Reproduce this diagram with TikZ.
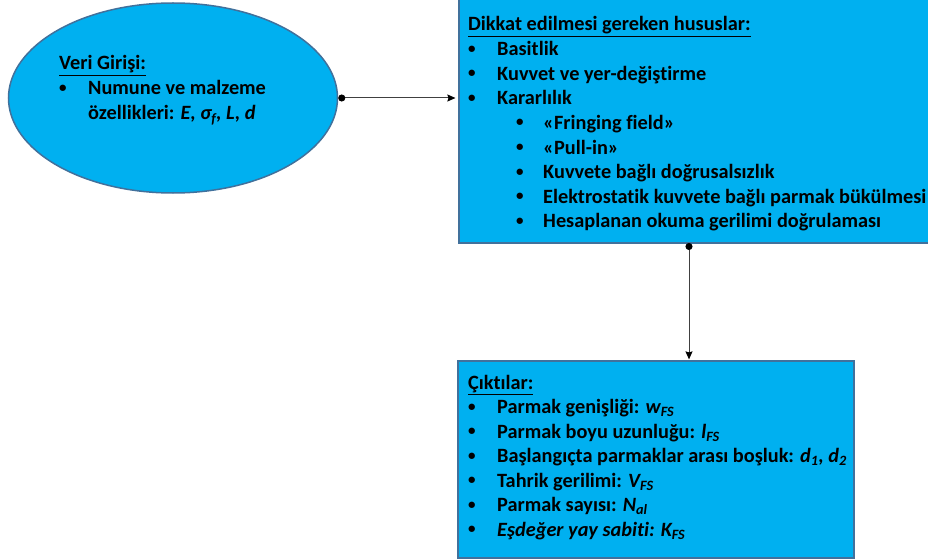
\documentclass[tikz,border=0pt]{standalone}
\usepackage{fontspec}
\setmainfont{Carlito}[Ligatures={NoCommon}]
\usetikzlibrary{shapes.geometric,arrows.meta}
\definecolor{fillblue}{HTML}{00B0F0}
\definecolor{edgeblue}{HTML}{41719C}
\definecolor{linegray}{HTML}{404040}
\tikzset{
  ellbox/.style={ellipse, draw=edgeblue, line width=1.5pt, fill=fillblue, inner sep=0},
  rectbox/.style={rectangle, draw=edgeblue, line width=1.2pt, fill=fillblue, inner sep=0},
  txt/.style={anchor=base west, inner sep=0, font=\fontsize{20.3}{24}\selectfont\bfseries},
  bul/.style={anchor=base west, inner sep=0, font=\fontsize{15}{16}\selectfont\bfseries, yshift=2.5pt},
  conn/.style={draw=linegray, line width=1pt, {Circle[length=7pt,width=7pt,fill=black,color=black]}-{Stealth[length=8pt,width=7pt,inset=1pt,color=black]}}
}
\begin{document}
\begin{tikzpicture}[x=1pt,y=-1pt]
\useasboundingbox (0,0) rectangle (928,559);
% shapes
\node[ellbox, minimum width=329pt, minimum height=190pt] (ell) at (173,98) {};
\node[rectbox, minimum width=475pt, minimum height=250pt] (top) at (696.5,118) {};
\node[rectbox, minimum width=396pt, minimum height=197pt] (bot) at (656,459.5) {};
% ellipse text
\node[txt] (e0) at (59,70) {\underline{Veri Girişi:}};
\node[bul] (e1b) at (59,95) {•};
\node[txt] (e1) at (88,95) {Numune ve malzeme};
\node[txt] (e2) at (88,120) {özellikleri: \textit{E, σ\textsubscript{f}, L, d}};
% top box text
\node[txt] (t0) at (468,31) {\underline{Dikkat edilmesi gereken hususlar:}};
\node[bul] (t1b) at (468,56) {•};
\node[txt] (t1) at (497,56) {Basitlik};
\node[bul] (t2b) at (468,80.5) {•};
\node[txt] (t2) at (497,80.5) {Kuvvet ve yer-değiştirme};
\node[bul] (t3b) at (468,105) {•};
\node[txt] (t3) at (497,105) {Kararlılık};
\node[bul] (t4b) at (516,129.5) {•};
\node[txt] (t4) at (543,129.5) {«Fringing field»};
\node[bul] (t5b) at (516,154) {•};
\node[txt] (t5) at (543,154) {«Pull-in»};
\node[bul] (t6b) at (516,178.5) {•};
\node[txt] (t6) at (543,178.5) {Kuvvete bağlı doğrusalsızlık};
\node[bul] (t7b) at (516,203) {•};
\node[txt] (t7) at (543,203) {Elektrostatik kuvvete bağlı parmak bükülmesi};
\node[bul] (t8b) at (516,227.5) {•};
\node[txt] (t8) at (543,227.5) {Hesaplanan okuma gerilimi doğrulaması};
% bottom box text
\node[txt] (b0) at (468,389) {\underline{Çıktılar:}};
\node[bul] (b1b) at (468,413.5) {•};
\node[txt] (b1) at (497,413.5) {Parmak genişliği: \textit{w\textsubscript{FS}}};
\node[bul] (b2b) at (468,438) {•};
\node[txt] (b2) at (497,438) {Parmak boyu uzunluğu: \textit{l\textsubscript{FS}}};
\node[bul] (b3b) at (468,462.5) {•};
\node[txt] (b3) at (497,462.5) {Başlangıçta parmaklar arası boşluk: \textit{d\textsubscript{1}, d\textsubscript{2}}};
\node[bul] (b4b) at (468,487) {•};
\node[txt] (b4) at (497,487) {Tahrik gerilimi: \textit{V\textsubscript{FS}}};
\node[bul] (b5b) at (468,511.5) {•};
\node[txt] (b5) at (497,511.5) {Parmak sayısı: \textit{N\textsubscript{al}}};
\node[bul] (b6b) at (468,536) {•};
\node[txt] (b6) at (497,536) {\textit{Eşdeğer yay sabiti: K\textsubscript{FS}}};
% connectors
\coordinate (a1) at (ell.east);
\draw[conn, shorten >=3pt] (a1) -- (a1 -| top.west);
\coordinate (a2) at (689,243);
\draw[conn, shorten >=1pt] (a2) -- (a2 |- bot.north);
\end{tikzpicture}
\end{document}
